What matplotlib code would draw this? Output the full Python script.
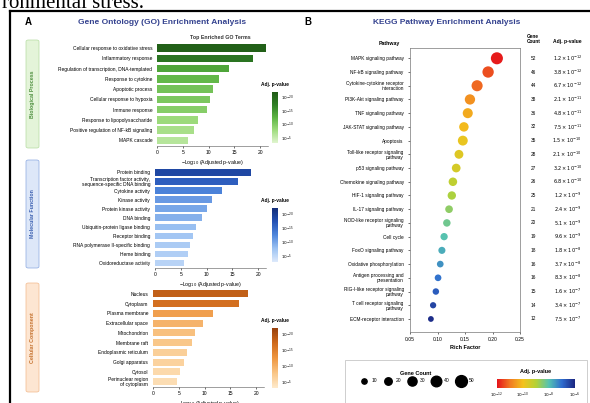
import numpy as np
import matplotlib
matplotlib.use('Agg')
import matplotlib.pyplot as plt
from matplotlib.colors import LinearSegmentedColormap, Normalize
from matplotlib.cm import ScalarMappable
from matplotlib.patches import Rectangle, FancyBboxPatch
from matplotlib.lines import Line2D
from matplotlib.transforms import blended_transform_factory

plt.rcParams['font.family'] = ['Liberation Sans', 'DejaVu Sans']

# --- GO enrichment (-log10 adjusted p-value) ---
bp_terms = ['Cellular response to oxidative stress', 'Inflammatory response',
            'Regulation of transcription, DNA-templated', 'Response to cytokine',
            'Apoptotic process', 'Cellular response to hypoxia', 'Immune response',
            'Response to lipopolysaccharide', 'Positive regulation of NF-kB signaling',
            'MAPK cascade']
bp_values = [21.2, 18.6, 13.9, 12.0, 10.8, 10.2, 9.6, 8.0, 7.1, 6.1]

mf_terms = ['Protein binding',
            'Transcription factor activity,\nsequence-specific DNA binding',
            'Cytokine activity', 'Kinase activity', 'Protein kinase activity',
            'DNA binding', 'Ubiquitin-protein ligase binding', 'Receptor binding',
            'RNA polymerase II-specific binding', 'Heme binding',
            'Oxidoreductase activity']
mf_values = [18.6, 16.1, 12.9, 11.0, 10.0, 9.2, 8.0, 7.3, 6.7, 6.3, 5.7]

cc_terms = ['Nucleus', 'Cytoplasm', 'Plasma membrane', 'Extracellular space',
            'Mitochondrion', 'Membrane raft', 'Endoplasmic reticulum',
            'Golgi apparatus', 'Cytosol', 'Perinuclear region\nof cytoplasm']
cc_values = [18.4, 16.7, 11.6, 9.6, 8.2, 7.5, 6.5, 6.1, 5.3, 4.7]

# --- KEGG pathways ---
kegg_pathways = ['MAPK signaling pathway', 'NF-kB signaling pathway',
                 'Cytokine-cytokine receptor\ninteraction', 'PI3K-Akt signaling pathway',
                 'TNF signaling pathway', 'JAK-STAT signaling pathway', 'Apoptosis',
                 'Toll-like receptor signaling\npathway', 'p53 signaling pathway',
                 'Chemokine signaling pathway', 'HIF-1 signaling pathway',
                 'IL-17 signaling pathway', 'NOD-like receptor signaling\npathway',
                 'Cell cycle', 'FoxO signaling pathway', 'Oxidative phosphorylation',
                 'Antigen processing and\npresentation',
                 'RIG-I-like receptor signaling\npathway',
                 'T cell receptor signaling\npathway', 'ECM-receptor interaction']
kegg_rich = [0.208, 0.192, 0.172, 0.159, 0.155, 0.148, 0.146, 0.139, 0.134, 0.128,
             0.126, 0.121, 0.117, 0.112, 0.108, 0.105, 0.101, 0.097, 0.092, 0.088]
kegg_count = [52, 46, 44, 38, 36, 32, 35, 28, 27, 26, 25, 21, 20, 19, 18, 16, 16, 15, 14, 12]
kegg_padj = [1.2e-12, 3.8e-12, 6.7e-12, 2.1e-11, 4.8e-11, 7.5e-11, 1.5e-10, 2.1e-10,
             3.2e-10, 6.8e-10, 1.2e-9, 2.4e-9, 5.1e-9, 9.6e-9, 1.8e-8, 3.7e-8,
             8.3e-8, 1.6e-7, 3.4e-7, 7.5e-7]
legend_counts = [10, 20, 30, 40, 50]

W, H = 590, 403
fig = plt.figure(figsize=(W / 100, H / 100), dpi=100)


def px(x0, y0, x1, y1):
    # pixel box, origin top-left -> figure rect
    return [x0 / W, 1 - y1 / H, (x1 - x0) / W, (y1 - y0) / H]


def pt(x, y):
    return x / W, 1 - y / H


# page fragment + frame
fig.text(*pt(2, 8), 'ronmental stress.', fontsize=15, family='Liberation Serif',
         va='baseline', ha='left')
fig.add_artist(Line2D([10 / W, 1], [1 - 11 / H] * 2, color='black', lw=1.6))
fig.add_artist(Line2D([10 / W] * 2, [1 - 11 / H, 0], color='black', lw=1.6))

title_color = '#34428f'
fig.text(*pt(28, 22), 'A', fontsize=7, weight='bold', ha='center', va='center')
fig.text(*pt(162, 22), 'Gene Ontology (GO) Enrichment Analysis', fontsize=6,
         weight='bold', color=title_color, ha='center', va='center')
fig.text(*pt(220, 38), 'Top Enriched GO Terms', fontsize=3.8, weight='bold',
         ha='center', va='center', color='#333333')


def go_panel(terms, values, ax_box, cb_box, cat_box, cat_text, colors, box_colors):
    cmap = LinearSegmentedColormap.from_list('c', colors)
    norm = Normalize(vmin=3, vmax=22)
    ax = fig.add_axes(px(*ax_box))
    y = np.arange(len(terms))
    ax.barh(y, values, height=0.72, color=cmap(norm(np.array(values))))
    ax.set_ylim(len(terms) - 0.45, -0.6)
    ax.set_xlim(0, 21.5)
    ax.set_yticks(y)
    ax.set_yticklabels(terms, fontsize=3.5, linespacing=0.95)
    ax.tick_params(axis='y', length=0, pad=3.5)
    ax.set_xticks([0, 5, 10, 15, 20])
    ax.tick_params(axis='x', labelsize=3.6, length=1.5, width=0.4, pad=1.5)
    for s in ['top', 'right', 'left']:
        ax.spines[s].set_visible(False)
    ax.spines['bottom'].set_linewidth(0.4)
    ax.spines['bottom'].set_color('#555555')
    ax.set_xlabel('\u2212Log$_{10}$ (Adjusted p-value)', fontsize=3.8, labelpad=2)

    cax = fig.add_axes(px(*cb_box))
    cb = fig.colorbar(ScalarMappable(norm=norm, cmap=cmap), cax=cax)
    cb.outline.set_visible(False)
    cb.set_ticks([5, 10, 15, 20])
    cb.set_ticklabels(['$10^{-5}$', '$10^{-10}$', '$10^{-15}$', '$10^{-20}$'])
    cax.tick_params(labelsize=3, length=0, pad=2)
    cax.set_title('Adj. p-value', fontsize=3.5, weight='bold', pad=4)

    face, edge, tcol = box_colors
    x0, y0, x1, y1 = cat_box
    fig.add_artist(FancyBboxPatch(pt(x0, y1), (x1 - x0) / W, (y1 - y0) / H,
                                  boxstyle='round,pad=0,rounding_size=0.004',
                                  transform=fig.transFigure, facecolor=face,
                                  edgecolor=edge, lw=0.5, zorder=-1))
    fig.text(*pt((x0 + x1) / 2, (y0 + y1) / 2), cat_text, rotation=90, fontsize=3.8,
             color=tcol, ha='center', va='center', weight='bold')
    return ax


go_panel(bp_terms, bp_values, (157, 42, 268, 146), (272, 92, 278, 143), (26, 40, 39, 148),
         'Biological Process', ['#e0f5cf', '#9fdc7e', '#5cb443', '#2f7f25', '#1f5a16'],
         ('#e4f4d9', '#b5dca2', '#4e8f3e'))
go_panel(mf_terms, mf_values, (155, 167, 266, 268), (272, 208, 278, 262), (26, 160, 39, 268),
         'Molecular Function', ['#dde9fb', '#9cc2f2', '#4f86dc', '#2452b5', '#122c78'],
         ('#dde7f8', '#8aa8e0', '#3a5fb0'))
go_panel(cc_terms, cc_values, (153, 288, 264, 387), (272, 328, 278, 388), (26, 283, 39, 392),
         'Cellular Component', ['#feeacc', '#f9c585', '#ee9640', '#cf6a1c', '#97400c'],
         ('#fde6d2', '#f2b98c', '#c4702c'))

# --- Panel B ---
fig.text(*pt(308, 22), 'B', fontsize=7, weight='bold', ha='center', va='center')
fig.text(*pt(447, 22), 'KEGG Pathway Enrichment Analysis', fontsize=6,
         weight='bold', color=title_color, ha='center', va='center')

rainbow = LinearSegmentedColormap.from_list(
    'rb', ['#e5141b', '#f17a22', '#f3c21c', '#b4d235', '#55c2b2', '#2f6ccf', '#1b2580'])
axb = fig.add_axes(px(410, 48, 520, 332))
yk = np.arange(len(kegg_pathways))
axb.scatter(kegg_rich, yk, s=np.array(kegg_count) * 1.45, c=np.log10(kegg_padj),
            cmap=rainbow, vmin=-12, vmax=-6, edgecolors='none', zorder=3)
axb.set_ylim(len(kegg_pathways) - 0.05, -0.75)
axb.set_xlim(0.05, 0.25)
axb.set_yticks(yk)
axb.set_yticklabels(kegg_pathways, fontsize=3.4, linespacing=0.95)
axb.set_xticks([0.05, 0.10, 0.15, 0.20, 0.25])
axb.set_xticklabels(['%.2f' % v for v in [0.05, 0.10, 0.15, 0.20, 0.25]])
axb.tick_params(axis='y', length=1.5, width=0.4, pad=3)
axb.tick_params(axis='x', labelsize=3.6, length=1.5, width=0.4, pad=2)
for s in axb.spines.values():
    s.set_linewidth(0.5)
    s.set_color('#777777')
axb.set_xlabel('Rich Factor', fontsize=4, weight='bold', labelpad=2.5)

tr = blended_transform_factory(axb.transAxes, axb.transData)
axb.text(-0.09, -1.1, 'Pathway', transform=tr, fontsize=3.8, weight='bold',
         ha='right', va='center')
axb.text(1.12, -1.4, 'Gene\nCount', transform=tr, fontsize=3.4, weight='bold',
         ha='center', va='center', linespacing=0.95)
axb.text(1.43, -1.2, 'Adj. p-value', transform=tr, fontsize=3.6, weight='bold',
         ha='center', va='center')
for i, (n, p) in enumerate(zip(kegg_count, kegg_padj)):
    e = int(np.floor(np.log10(p)))
    m = p / 10 ** e
    axb.text(1.12, i, str(n), transform=tr, fontsize=3.4, ha='center', va='center')
    axb.text(1.43, i, r'$%.1f\times10^{%d}$' % (m, e), transform=tr, fontsize=3.6,
             ha='center', va='center')

# legend box (behind the legend contents)
fig.add_artist(Rectangle(pt(345, 406), 242 / W, 46 / H, transform=fig.transFigure,
                         facecolor='white', edgecolor='#bbbbbb', lw=0.5, zorder=-1))
handles = [Line2D([], [], marker='o', ls='', color='black',
                  markersize=np.sqrt(c * 1.45)) for c in legend_counts]
leg = fig.legend(handles, [str(c) for c in legend_counts], ncol=5, frameon=False,
                 title='Gene Count', fontsize=3.6, title_fontsize=4,
                 loc='center', bbox_to_anchor=pt(416, 377), handletextpad=0.4,
                 columnspacing=0.9, handlelength=2.4)
leg.get_title().set_fontweight('bold')

cax_b = fig.add_axes(px(497, 379, 575, 388))
cbb = fig.colorbar(ScalarMappable(norm=Normalize(-12, -6), cmap=rainbow), cax=cax_b,
                   orientation='horizontal')
cbb.outline.set_visible(False)
cbb.set_ticks([-12, -10, -8, -6])
cbb.set_ticklabels(['$10^{-12}$', '$10^{-10}$', '$10^{-8}$', '$10^{-6}$'])
cax_b.tick_params(labelsize=3, length=0, pad=2)
cax_b.set_title('Adj. p-value', fontsize=4, weight='bold', pad=4)

fig.savefig('out.png', dpi=100)
